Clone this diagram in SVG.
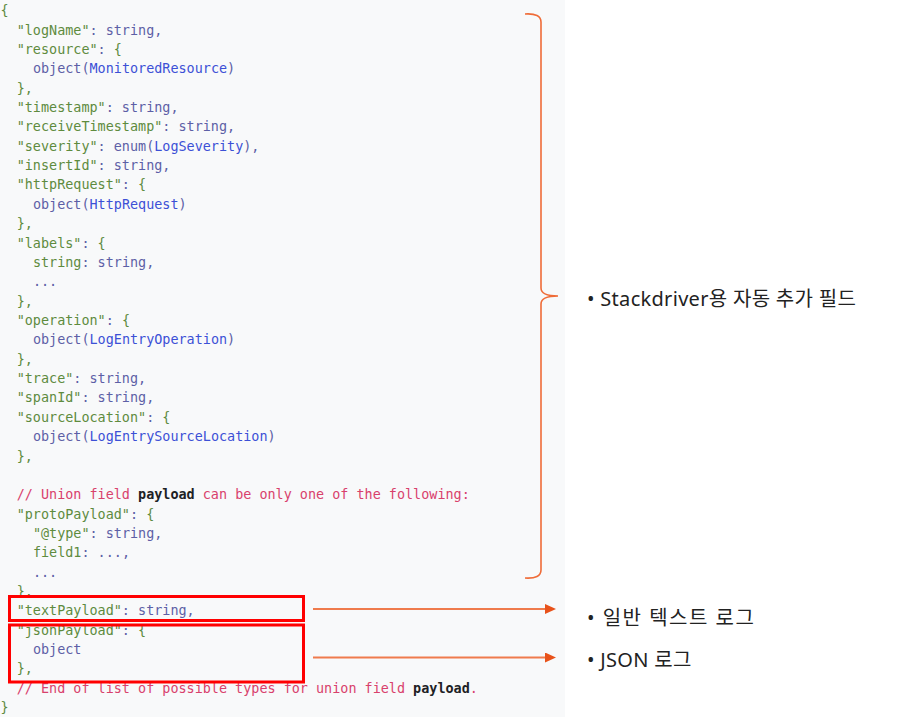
<svg xmlns="http://www.w3.org/2000/svg" width="900" height="717" viewBox="0 0 900 717">
<style>
.code{font-family:"DejaVu Sans Mono","Liberation Mono",monospace;font-size:13.45px}
.k{fill:#5e8b3e}
.v{fill:#5d5fa6}
.t{fill:#3c50d6}
.c{fill:#d8416c}
.b{fill:#202124;font-weight:bold}
.lbl{font-family:"Noto Sans","Noto Sans CJK KR",sans-serif;font-size:20px;fill:#222}
.box{fill:none;stroke:#ff0000;stroke-width:3}
.arr{stroke:#ef7b4c;stroke-width:2;fill:none}
</style>
<defs>
<marker id="ah" markerWidth="12" markerHeight="12" refX="0" refY="5" orient="auto" markerUnits="userSpaceOnUse">
<path d="M0,0 L11,5 L0,10 Z" fill="#e8521a"/>
</marker>
</defs>
<rect width="900" height="717" fill="#ffffff"/>
<g id="code-panel">
<rect x="0" y="0" width="565" height="717" fill="#f8f9fa"/>
<g class="code" transform="translate(0,1)">
<text x="0.5" y="14.2" class="k">{</text>
<text x="16.7" y="33.6"><tspan class="k">"logName"</tspan><tspan class="v">: string,</tspan></text>
<text x="16.7" y="52.9"><tspan class="k">"resource"</tspan><tspan class="v">: </tspan><tspan class="k">{</tspan></text>
<text x="32.9" y="72.3"><tspan class="v">object(</tspan><tspan class="t">MonitoredResource</tspan><tspan class="v">)</tspan></text>
<text x="16.7" y="91.6" class="k">},</text>
<text x="16.7" y="111.0"><tspan class="k">"timestamp"</tspan><tspan class="v">: string,</tspan></text>
<text x="16.7" y="130.4"><tspan class="k">"receiveTimestamp"</tspan><tspan class="v">: string,</tspan></text>
<text x="16.7" y="149.7"><tspan class="k">"severity"</tspan><tspan class="v">: enum(</tspan><tspan class="t">LogSeverity</tspan><tspan class="v">),</tspan></text>
<text x="16.7" y="169.1"><tspan class="k">"insertId"</tspan><tspan class="v">: string,</tspan></text>
<text x="16.7" y="188.4"><tspan class="k">"httpRequest"</tspan><tspan class="v">: </tspan><tspan class="k">{</tspan></text>
<text x="32.9" y="207.8"><tspan class="v">object(</tspan><tspan class="t">HttpRequest</tspan><tspan class="v">)</tspan></text>
<text x="16.7" y="227.2" class="k">},</text>
<text x="16.7" y="246.5"><tspan class="k">"labels"</tspan><tspan class="v">: </tspan><tspan class="k">{</tspan></text>
<text x="32.9" y="265.9"><tspan class="k">string</tspan><tspan class="v">: string,</tspan></text>
<text x="32.9" y="285.2" class="v">...</text>
<text x="16.7" y="304.6" class="k">},</text>
<text x="16.7" y="324.0"><tspan class="k">"operation"</tspan><tspan class="v">: </tspan><tspan class="k">{</tspan></text>
<text x="32.9" y="343.3"><tspan class="v">object(</tspan><tspan class="t">LogEntryOperation</tspan><tspan class="v">)</tspan></text>
<text x="16.7" y="362.7" class="k">},</text>
<text x="16.7" y="382.0"><tspan class="k">"trace"</tspan><tspan class="v">: string,</tspan></text>
<text x="16.7" y="401.4"><tspan class="k">"spanId"</tspan><tspan class="v">: string,</tspan></text>
<text x="16.7" y="420.8"><tspan class="k">"sourceLocation"</tspan><tspan class="v">: </tspan><tspan class="k">{</tspan></text>
<text x="32.9" y="440.1"><tspan class="v">object(</tspan><tspan class="t">LogEntrySourceLocation</tspan><tspan class="v">)</tspan></text>
<text x="16.7" y="459.5" class="k">},</text>
<text x="16.7" y="498.2"><tspan class="c">// Union field </tspan><tspan class="b">payload</tspan><tspan class="c"> can be only one of the following:</tspan></text>
<text x="16.7" y="517.6"><tspan class="k">"protoPayload"</tspan><tspan class="v">: </tspan><tspan class="k">{</tspan></text>
<text x="32.9" y="536.9"><tspan class="k">"@type"</tspan><tspan class="v">: string,</tspan></text>
<text x="32.9" y="556.3"><tspan class="k">field1</tspan><tspan class="v">: ...,</tspan></text>
<text x="32.9" y="575.6" class="v">...</text>
<text x="16.7" y="595.0" class="k">},</text>
<text x="16.7" y="614.4"><tspan class="k">"textPayload"</tspan><tspan class="v">: string,</tspan></text>
<text x="16.7" y="633.7"><tspan class="k">"jsonPayload"</tspan><tspan class="v">: </tspan><tspan class="k">{</tspan></text>
<text x="32.9" y="653.1" class="v">object</text>
<text x="16.7" y="672.4" class="k">},</text>
<text x="16.7" y="691.8"><tspan class="c">// End of list of possible types for union field </tspan><tspan class="b">payload</tspan><tspan class="c">.</tspan></text>
<text x="0.5" y="711.2" class="k">}</text>
</g>
</g>
<g id="brace">
<path d="M525,14 Q541,13 541,22 L541,288 Q541,296 558,296 Q541,296 541,304 L541,570 Q541,579 525,578" fill="none" stroke="#ef6c38" stroke-width="1.6"/>
</g>
<g id="box-text-payload">
<rect class="box" x="9.5" y="596.5" width="294" height="24"/>
</g>
<g id="box-json-payload">
<rect class="box" x="9.5" y="625" width="294" height="57"/>
</g>
<g id="connectors">
<line class="arr" x1="313" y1="609" x2="545" y2="609" marker-end="url(#ah)"/>
<line class="arr" x1="313" y1="657.5" x2="545" y2="657.5" marker-end="url(#ah)"/>
</g>
<g id="label-stackdriver">
<text class="lbl" x="587" y="306" letter-spacing="0.3">• Stackdriver용 자동 추가 필드</text>
</g>
<g id="label-text-log">
<text class="lbl" x="587" y="625" letter-spacing="1.5">• 일반 텍스트 로그</text>
</g>
<g id="label-json-log">
<text class="lbl" x="587" y="667" letter-spacing="0.3">• JSON 로그</text>
</g>
</svg>
